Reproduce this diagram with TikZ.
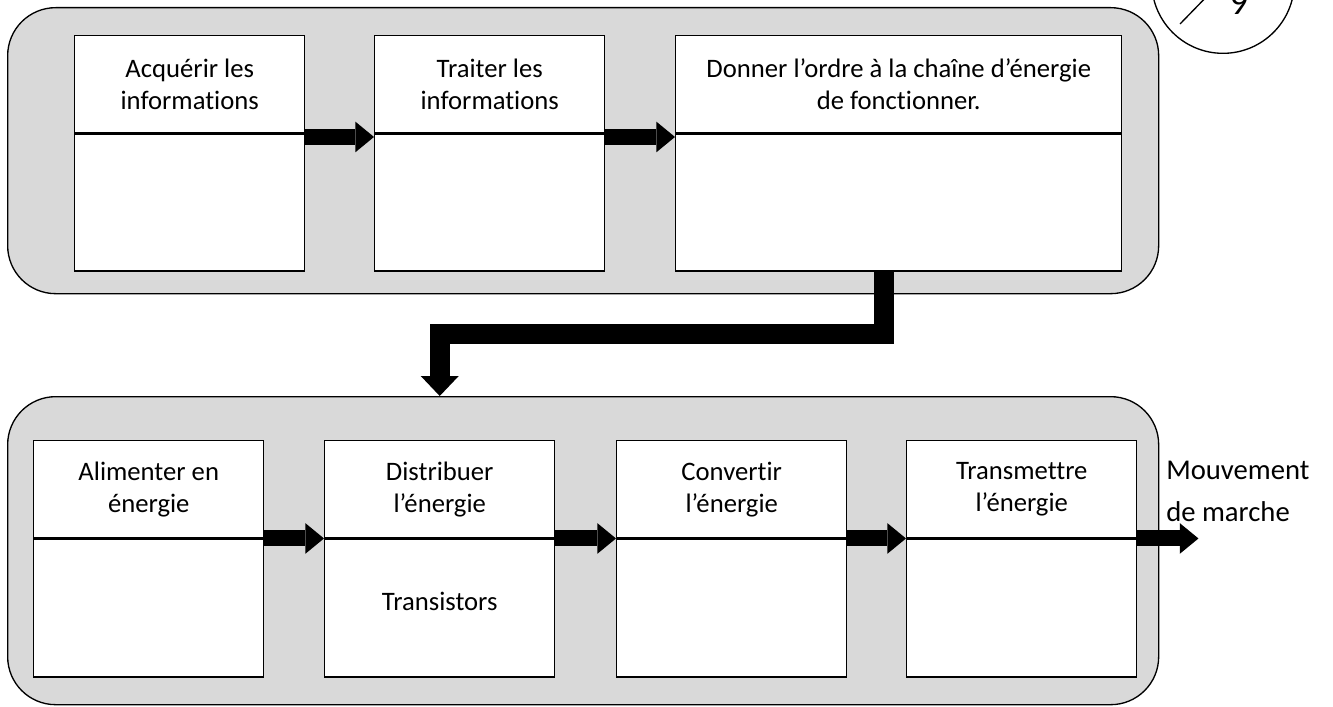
\documentclass[tikz,border=0pt]{standalone}
\usepackage{fontspec}
\setmainfont{Carlito}[Ligatures=NoCommon]
\usetikzlibrary{arrows.meta,calc}

\begin{document}
\begin{tikzpicture}[x=0.75pt,y=-0.75pt,
 zone/.style={draw,line width=1pt,fill=black!15,rounded corners=36pt,anchor=north west,inner sep=0pt,minimum width=863.25pt},
 fhead/.style={draw,line width=1.1pt,fill=white,anchor=north west,align=center,inner sep=0pt,minimum width=172.5pt,minimum height=72.75pt,font=\fontsize{20}{24}\selectfont},
 fbody/.style={fhead,anchor=north,minimum height=102.75pt},
 flow/.style={line width=12pt,-{Triangle[length=14pt,width=23pt,line width=0pt]}},
 order/.style={line width=15pt,-{Triangle[length=15pt,width=28.5pt,line width=0pt]}}]
 \useasboundingbox (0,0) rectangle (1333,706);
 \clip (0,0) rectangle (1333,706);
 % chaine d'information
 \node[zone,minimum height=214.5pt] (info) at (7,7) {};
 \node[fhead] (acq) at (74,35) {Acquérir les\\informations};
 \node[fbody] (acqb) at (acq.south) {};
 \node[fhead] (trt) at (374,35) {Traiter les\\informations};
 \node[fbody] (trtb) at (trt.south) {};
 \node[fhead,minimum width=334.5pt] (ord) at (675,35) {Donner l’ordre à la chaîne d’énergie\\de fonctionner.};
 \node[fbody,minimum width=334.5pt] (ordb) at (ord.south) {};
 \draw[flow] ($(acq.south east)+(0,3.5)$) -- ($(trt.south west)+(0,3.5)$);
 \draw[flow] ($(trt.south east)+(0,3.5)$) -- ($(ord.south west)+(0,3.5)$);
 % chaine d'energie
 \node[zone,minimum height=231pt] (nrj) at (7,396) {};
 \node[fhead] (ali) at (33,440) {Alimenter en\\énergie};
 \node[fbody,minimum height=103.5pt] (alib) at (ali.south) {};
 \node[fhead] (dist) at (324,440) {Distribuer\\l’énergie};
 \node[fbody,minimum height=103.5pt] (distb) at (dist.south) {};
 \node[font=\fontsize{20}{24}\selectfont,inner sep=0pt] (trans) at ($(distb.center)+(0,-7)$) {Transistors};
 \node[fhead] (conv) at (616,440) {Convertir\\l’énergie};
 \node[fbody,minimum height=103.5pt] (convb) at (conv.south) {};
 \node[fhead] (trs) at (906,440) {Transmettre\\l’énergie};
 \node[fbody,minimum height=103.5pt] (trsb) at (trs.south) {};
 \draw[flow] (ali.south east) -- (dist.south west);
 \draw[flow] (dist.south east) -- (conv.south west);
 \draw[flow] (conv.south east) -- (trs.south west);
 \coordinate (sortie) at ($(trs.south east)+(61,0)$);
 \draw[flow] (trs.south east) -- (sortie);
 \node[anchor=west,align=left,inner sep=0pt,font=\fontsize{21.5}{31.5}\selectfont] (mvt) at (1166,491) {Mouvement\\de marche};
 % ordre
 \draw[order] ($(ordb.south)+(-14.5,0)$) -- ++(0,62) -| (dist.north |- nrj.north);
 % bareme
 \node[draw,circle,line width=1pt,minimum size=107pt,inner sep=0pt] (note) at (1223,-18) {};
 \draw[line width=1pt] (1180,24) -- (1215,-12);
 \node[anchor=base,inner sep=0pt,font=\fontsize{27}{30}\selectfont] (bareme) at (1239,15) {9};
\end{tikzpicture}
\end{document}
